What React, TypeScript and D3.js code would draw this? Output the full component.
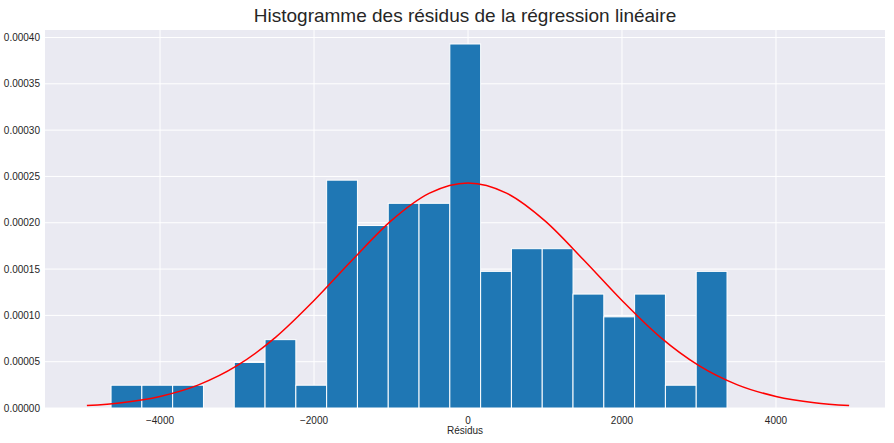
import { scaleLinear, line, curveMonotoneX } from "d3";

const binStart = -4636;
const binWidth = 400;
const binDensity = [
  0.0000246, 0.0000246, 0.0000246, 0, 0.0000492, 0.0000738, 0.0000246,
  0.000246, 0.000197, 0.000221, 0.000221, 0.000393, 0.0001475, 0.000172,
  0.000172, 0.000123, 0.0000984, 0.000123, 0.0000246, 0.0001475,
];
const curveX = [
  -4950, -4500, -4000, -3500, -3000, -2500, -2000, -1500, -1000, -500, 0,
  500, 1000, 1500, 2000, 2500, 3000, 3500, 4000, 4500, 4950,
];
const curveY = [
  0.0000026, 0.0000057, 0.0000125, 0.000025, 0.0000457, 0.0000762, 0.000116,
  0.00016, 0.000202, 0.000232, 0.000243, 0.000232, 0.000202, 0.00016,
  0.000116, 0.0000762, 0.0000457, 0.000025, 0.0000125, 0.0000057, 0.0000026,
];
const xTicks = [-4000, -2000, 0, 2000, 4000];
const yTicks = [0, 0.00005, 0.0001, 0.00015, 0.0002, 0.00025, 0.0003, 0.00035, 0.0004];

const W = 894, H = 443;
const M = { left: 45, right: 9, top: 30, bottom: 35 };

export default function App() {
  const x = scaleLinear().domain([-5494, 5416]).range([M.left, W - M.right]);
  const y = scaleLinear().domain([0, 0.00040811]).range([H - M.bottom, M.top]);
  const path = line<number>()
    .x((_, i) => x(curveX[i]))
    .y((d) => y(d))
    .curve(curveMonotoneX)(curveY);
  return (
    <svg width={W} height={H} style={{ position: "absolute", left: 0, top: 0, background: "#fff" }}
      fontFamily="Liberation Sans, Arial, sans-serif">
      <rect x={M.left} y={M.top} width={W - M.left - M.right} height={H - M.top - M.bottom} fill="#eaeaf2" />
      {yTicks.map((t) => (
        <g key={t}>
          <line x1={M.left} x2={W - M.right} y1={y(t)} y2={y(t)} stroke="#fff" />
          <text x={M.left - 5} y={y(t)} dy="0.35em" textAnchor="end" fontSize={10} fill="#262626">
            {t.toFixed(5)}
          </text>
        </g>
      ))}
      {xTicks.map((t) => (
        <g key={t}>
          <line x1={x(t)} x2={x(t)} y1={M.top} y2={H - M.bottom} stroke="#fff" />
          <text x={x(t)} y={H - M.bottom + 16} textAnchor="middle" fontSize={10} fill="#262626">
            {t < 0 ? "\u2212" + Math.abs(t) : t}
          </text>
        </g>
      ))}
      {binDensity.map((d, i) =>
        d > 0 ? (
          <rect key={i} x={x(binStart + i * binWidth)} y={y(d)}
            width={x(binStart + (i + 1) * binWidth) - x(binStart + i * binWidth)}
            height={y(0) - y(d)} fill="#1f77b4" stroke="#fff" strokeWidth={1} />
        ) : null
      )}
      <path d={path ?? undefined} fill="none" stroke="red" strokeWidth={1.5} />
      <text x={(M.left + W - M.right) / 2} y={22} textAnchor="middle" fontSize={19} fill="#262626">
        Histogramme des résidus de la régression linéaire
      </text>
      <text x={(M.left + W - M.right) / 2} y={434} textAnchor="middle" fontSize={10} fill="#262626">
        Résidus
      </text>
    </svg>
  );
}
